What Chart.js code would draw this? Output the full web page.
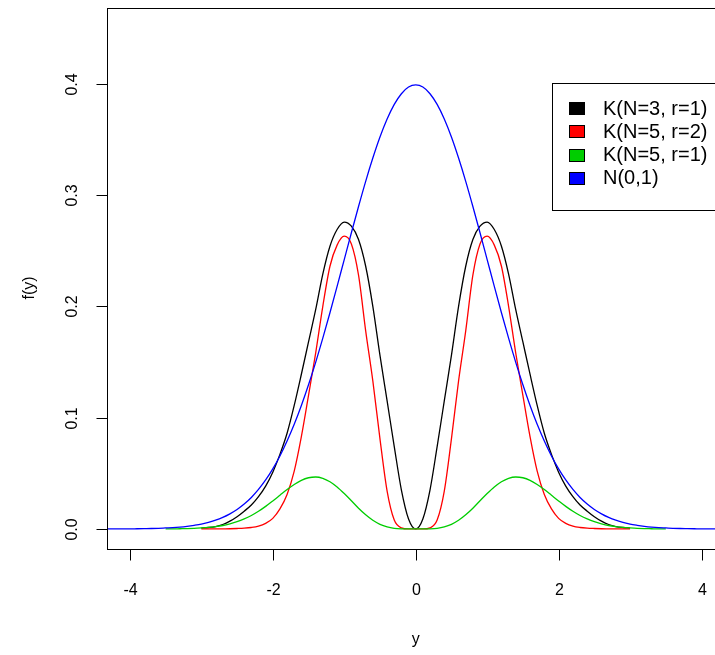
<!DOCTYPE html>
<html>
<head>
<meta charset="utf-8">
<script src="https://cdn.jsdelivr.net/npm/chart.js@4.4.1/dist/chart.umd.min.js"></script>
<style>
  html, body { margin: 0; padding: 0; background: #fff; overflow: hidden; }
  #wrap { width: 740px; height: 655px; }
</style>
</head>
<body>
<div id="wrap"><canvas id="c"></canvas></div>
<script>
// grid of y values
const xs = [-4.4, -4.3, -4.2, -4.1, -4.0, -3.9, -3.8, -3.7, -3.6, -3.5, -3.4, -3.3, -3.2, -3.1, -3.0,
  -2.9, -2.8, -2.7, -2.6, -2.5, -2.4, -2.3, -2.2, -2.1, -2.0, -1.9, -1.8, -1.7, -1.6, -1.5,
  -1.4, -1.3, -1.2, -1.1, -1.0, -0.9, -0.8, -0.7, -0.6, -0.5, -0.4, -0.3, -0.2, -0.1, 0.0,
  0.1, 0.2, 0.3, 0.4, 0.5, 0.6, 0.7, 0.8, 0.9, 1.0, 1.1, 1.2, 1.3, 1.4, 1.5,
  1.6, 1.7, 1.8, 1.9, 2.0, 2.1, 2.2, 2.3, 2.4, 2.5, 2.6, 2.7, 2.8, 2.9, 3.0,
  3.1, 3.2, 3.3, 3.4, 3.5, 3.6, 3.7, 3.8, 3.9, 4.0, 4.1, 4.2, 4.3, 4.4];

// K(N=3, r=1)
const k31 = [null, null, null, null, null, null, null, null, null, null, null, null, null, null, 0.0008,
  0.0013, 0.0022, 0.0040, 0.0070, 0.0110, 0.0160, 0.0215, 0.0290, 0.0385, 0.0510, 0.0670, 0.0860, 0.1110, 0.1390, 0.1680,
  0.1970, 0.2290, 0.2540, 0.2690, 0.2757, 0.2720, 0.2600, 0.2360, 0.2000, 0.1560, 0.1150, 0.0740, 0.0350, 0.0090, 0.0000,
  0.0090, 0.0350, 0.0740, 0.1150, 0.1560, 0.2000, 0.2360, 0.2600, 0.2720, 0.2757, 0.2690, 0.2540, 0.2290, 0.1970, 0.1680,
  0.1390, 0.1110, 0.0860, 0.0670, 0.0510, 0.0385, 0.0290, 0.0215, 0.0160, 0.0110, 0.0070, 0.0040, 0.0022, 0.0013, 0.0008,
  null, null, null, null, null, null, null, null, null, null, null, null, null, null];

// K(N=5, r=2)
const k52 = [null, null, null, null, null, null, null, null, null, null, null, null, null, null, 0.0000,
  0.0000, 0.0000, 0.0001, 0.0002, 0.0004, 0.0007, 0.0013, 0.0025, 0.0050, 0.0095, 0.0180, 0.0310, 0.0520, 0.0830, 0.1200,
  0.1580, 0.2000, 0.2360, 0.2550, 0.2630, 0.2560, 0.2280, 0.1780, 0.1330, 0.0810, 0.0340, 0.0080, 0.0010, 0.0000, 0.0000,
  0.0000, 0.0010, 0.0080, 0.0340, 0.0810, 0.1330, 0.1780, 0.2280, 0.2560, 0.2630, 0.2550, 0.2360, 0.2000, 0.1580, 0.1200,
  0.0830, 0.0520, 0.0310, 0.0180, 0.0095, 0.0050, 0.0025, 0.0013, 0.0007, 0.0004, 0.0002, 0.0001, 0.0000, 0.0000, 0.0000,
  null, null, null, null, null, null, null, null, null, null, null, null, null, null];

// K(N=5, r=1)
const k51 = [null, null, null, null, null, null, null, null, null, 0.0001, 0.0001, 0.0002, 0.0003, 0.0005, 0.0009,
  0.0014, 0.0021, 0.0031, 0.0046, 0.0065, 0.0090, 0.0121, 0.0159, 0.0203, 0.0252, 0.0303, 0.0354, 0.0400, 0.0437, 0.0460,
  0.0467, 0.0455, 0.0424, 0.0377, 0.0318, 0.0253, 0.0186, 0.0127, 0.0078, 0.0042, 0.0019, 0.0006, 0.0001, 0.0000, 0.0000,
  0.0000, 0.0001, 0.0006, 0.0019, 0.0042, 0.0078, 0.0127, 0.0186, 0.0253, 0.0318, 0.0377, 0.0424, 0.0455, 0.0467, 0.0460,
  0.0437, 0.0400, 0.0354, 0.0303, 0.0252, 0.0203, 0.0159, 0.0121, 0.0090, 0.0065, 0.0046, 0.0031, 0.0021, 0.0014, 0.0009,
  0.0005, 0.0003, 0.0002, 0.0001, 0.0001, null, null, null, null, null, null, null, null, null];

// N(0,1)
const n01 = [0.0000, 0.0000, 0.0001, 0.0001, 0.0001, 0.0002, 0.0003, 0.0004, 0.0006, 0.0009, 0.0012, 0.0017, 0.0024, 0.0033, 0.0044,
  0.0060, 0.0079, 0.0104, 0.0136, 0.0175, 0.0224, 0.0283, 0.0355, 0.0440, 0.0540, 0.0656, 0.0790, 0.0940, 0.1109, 0.1295,
  0.1497, 0.1714, 0.1942, 0.2179, 0.2420, 0.2661, 0.2897, 0.3123, 0.3332, 0.3521, 0.3683, 0.3814, 0.3910, 0.3970, 0.3989,
  0.3970, 0.3910, 0.3814, 0.3683, 0.3521, 0.3332, 0.3123, 0.2897, 0.2661, 0.2420, 0.2179, 0.1942, 0.1714, 0.1497, 0.1295,
  0.1109, 0.0940, 0.0790, 0.0656, 0.0540, 0.0440, 0.0355, 0.0283, 0.0224, 0.0175, 0.0136, 0.0104, 0.0079, 0.0060, 0.0044,
  0.0033, 0.0024, 0.0017, 0.0012, 0.0009, 0.0006, 0.0004, 0.0003, 0.0002, 0.0001, 0.0001, 0.0001, 0.0000, 0.0000];

const seriesNames = ["K(N=3, r=1)", "K(N=5, r=2)", "K(N=5, r=1)", "N(0,1)"];
const seriesColors = ["#000000", "#ff0000", "#00cd00", "#0000ff"];
const xTicks = [-4, -2, 0, 2, 4];
const yTicks = [0, 0.1, 0.2, 0.3, 0.4];
const yTickLabels = ["0.0", "0.1", "0.2", "0.3", "0.4"];

const FONT = '"Liberation Sans", Arial, sans-serif';

function pts(arr) {
  return xs.map((x, i) => ({ x: x, y: arr[i] }));
}

// R style box, ticks, labels and legend
const rDecor = {
  id: "rDecor",
  afterDraw(chart) {
    const ctx = chart.ctx;
    const a = chart.chartArea;
    const sx = chart.scales.x, sy = chart.scales.y;
    ctx.save();
    ctx.strokeStyle = "#000";
    ctx.fillStyle = "#000";
    ctx.lineWidth = 1;
    ctx.strokeRect(Math.round(a.left) + 0.5, Math.round(a.top) + 0.5,
      Math.round(a.right - a.left), Math.round(a.bottom - a.top));

    ctx.font = "16px " + FONT;
    ctx.textAlign = "center";
    ctx.textBaseline = "middle";
    const b = Math.round(a.bottom) + 0.5;
    xTicks.forEach((v) => {
      const px = Math.round(sx.getPixelForValue(v)) + 0.5;
      ctx.beginPath();
      ctx.moveTo(px, b);
      ctx.lineTo(px, b + 11);
      ctx.stroke();
      ctx.fillText(String(v), px, b + 41);
    });
    const l = Math.round(a.left) + 0.5;
    yTicks.forEach((v, i) => {
      const py = Math.round(sy.getPixelForValue(v)) + 0.5;
      ctx.beginPath();
      ctx.moveTo(l - 11, py);
      ctx.lineTo(l, py);
      ctx.stroke();
      ctx.save();
      ctx.translate(l - 35, py);
      ctx.rotate(-Math.PI / 2);
      ctx.fillText(yTickLabels[i], 0, 0);
      ctx.restore();
    });
    ctx.fillText("y", sx.getPixelForValue(0), 640);
    ctx.save();
    ctx.translate(30, 288);
    ctx.rotate(-Math.PI / 2);
    ctx.fillText("f(y)", 0, 0);
    ctx.restore();

    // legend
    const lx = 552.5, ly = 83.5;
    ctx.fillStyle = "#fff";
    ctx.fillRect(lx, ly, 190, 127);
    ctx.strokeRect(lx, ly, 190, 127);
    ctx.font = "20px " + FONT;
    ctx.textAlign = "left";
    seriesNames.forEach((name, i) => {
      const cy = 108 + i * 23.3;
      ctx.fillStyle = seriesColors[i];
      ctx.fillRect(569.5, Math.round(cy - 6) + 0.5, 15, 12);
      ctx.strokeStyle = "#000";
      ctx.strokeRect(569.5, Math.round(cy - 6) + 0.5, 15, 12);
      ctx.fillStyle = "#000";
      ctx.fillText(name, 603, cy + 1);
    });
    ctx.restore();
  }
};

const sets = [k31, k52, k51, n01];
new Chart(document.getElementById("c"), {
  type: "line",
  data: {
    datasets: sets.map((arr, i) => ({
      label: seriesNames[i],
      data: pts(arr),
      borderColor: seriesColors[i],
      borderWidth: 1.3,
      pointRadius: 0,
      fill: false,
      spanGaps: false,
      cubicInterpolationMode: "monotone",
      order: 3 - i
    }))
  },
  options: {
    responsive: true,
    maintainAspectRatio: false,
    animation: false,
    layout: { padding: { left: 107, top: 8, right: 15.6, bottom: 106 } },
    plugins: { legend: { display: false }, tooltip: { enabled: false } },
    scales: {
      x: { type: "linear", min: -4.32, max: 4.32, display: false },
      y: { type: "linear", min: -0.018, max: 0.468, display: false }
    }
  },
  plugins: [rDecor]
});
</script>
</body>
</html>
